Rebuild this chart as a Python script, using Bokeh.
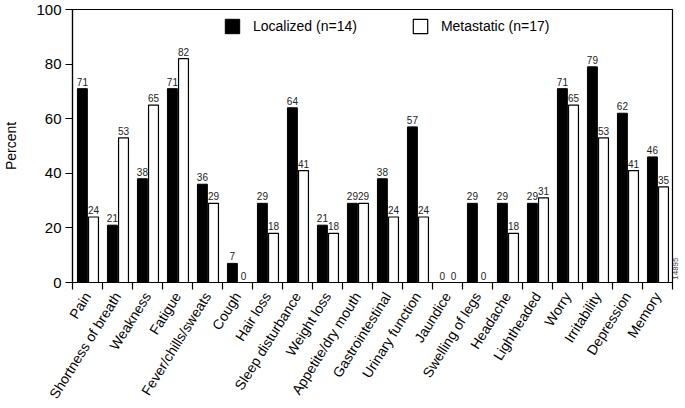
import numpy as np
from bokeh.plotting import figure
from bokeh.models import (ColumnDataSource, FixedTicker, Legend, LegendItem, Range1d,
                          LinearAxis)
from bokeh.transform import dodge
from bokeh.core.properties import value
from bokeh.embed import file_html
from bokeh.resources import INLINE

categories = ["Pain", "Shortness of breath", "Weakness", "Fatigue", "Fever/chills/sweats",
              "Cough", "Hair loss", "Sleep disturbance", "Weight loss", "Appetite/dry mouth",
              "Gastrointestinal", "Urinary function", "Jaundice", "Swelling of legs", "Headache",
              "Lightheaded", "Worry", "Irritability", "Depression", "Memory"]
localized = [71, 21, 38, 71, 36, 7, 29, 64, 21, 29, 38, 57, 0, 29, 29, 29, 71, 79, 62, 46]
metastatic = [24, 53, 65, 82, 29, 0, 18, 41, 18, 29, 24, 24, 0, 0, 18, 31, 65, 53, 41, 35]
y_ticks = [0, 20, 40, 60, 80, 100]
series_names = ["Localized (n=14)", "Metastatic (n=17)"]
figure_id = "14895"

n = len(categories)
xc = np.arange(n) + 0.5
src = ColumnDataSource(dict(
    xc=xc, cat=categories, loc=localized, met=metastatic,
    loc_t=[str(v) for v in localized], met_t=[str(v) for v in metastatic]))

FONT = "Liberation Sans"
p = figure(width=685, height=408, output_backend="svg", toolbar_location=None,
           x_range=Range1d(0, n), y_range=Range1d(0, 100),
           min_border_left=70, min_border_right=13, min_border_top=9, min_border_bottom=125)
p.grid.visible = False
p.outline_line_color = "black"
p.outline_line_width = 1.2
p.background_fill_color = "white"
p.border_fill_color = "white"

r1 = p.vbar(x=dodge("xc", -0.17), top="loc", width=0.33, source=src,
            fill_color="black", line_color="black", line_width=1)
r2 = p.vbar(x=dodge("xc", 0.2), top="met", width=0.33, source=src,
            fill_color="white", line_color="black", line_width=1.2)

p.text(x=dodge("xc", -0.17), y="loc", text="loc_t", source=src, text_align="center",
       text_baseline="bottom", y_offset=-3, text_font=value(FONT), text_font_size="10px",
       text_color="#222222")
p.text(x=dodge("xc", 0.2), y="met", text="met_t", source=src, text_align="center",
       text_baseline="bottom", y_offset=-3, text_font=value(FONT), text_font_size="10px",
       text_color="#222222")

# x axis: labels at category centres, ticks at category boundaries
xa = p.xaxis[0]
xa.ticker = FixedTicker(ticks=list(xc), minor_ticks=list(range(n + 1)))
xa.major_label_overrides = {float(x): c for x, c in zip(xc, categories)}
xa.major_tick_line_color = None
xa.minor_tick_out = 7
xa.minor_tick_in = 0
xa.minor_tick_line_color = "black"
xa.minor_tick_line_width = 1.2
xa.axis_line_width = 1.2
xa.major_label_orientation = np.deg2rad(58)
xa.major_label_text_font = FONT
xa.major_label_text_font_size = "14px"
xa.major_label_text_color = "black"
xa.major_label_standoff = 4

ya = p.yaxis[0]
ya.ticker = FixedTicker(ticks=y_ticks)
ya.minor_tick_line_color = None
ya.major_tick_out = 7
ya.major_tick_in = 0
ya.major_tick_line_width = 1.2
ya.axis_line_width = 1.2
ya.major_label_text_font = FONT
ya.major_label_text_font_size = "15px"
ya.major_label_text_color = "black"
ya.major_label_standoff = 4
ya.axis_label = "Percent"
ya.axis_label_text_font = FONT
ya.axis_label_text_font_size = "14px"
ya.axis_label_text_font_style = "normal"
ya.axis_label_text_color = "black"
ya.axis_label_standoff = 14

# figure id as a rotated label just right of the frame
id_axis = LinearAxis(ticker=FixedTicker(ticks=[1]), major_label_overrides={1: figure_id},
                     axis_line_color=None, major_tick_line_color=None,
                     major_tick_out=0, major_tick_in=0,
                     minor_tick_line_color=None, minor_tick_out=0, minor_tick_in=0,
                     major_label_orientation=np.pi / 2,
                     major_label_standoff=3, major_label_text_font=FONT,
                     major_label_text_font_size="8px", major_label_text_color="#444444")
p.add_layout(id_axis, "right")

legend = Legend(items=[LegendItem(label=series_names[0], renderers=[r1]),
                       LegendItem(label=series_names[1], renderers=[r2])],
                orientation="horizontal", location=(151, 247),
                border_line_color=None, background_fill_alpha=0,
                padding=0, margin=0, spacing=54, label_standoff=12,
                glyph_width=18, glyph_height=18,
                label_text_font=FONT, label_text_font_size="14px",
                label_text_color="black")
p.add_layout(legend)

open("out.html", "w").write(file_html(p, INLINE))
